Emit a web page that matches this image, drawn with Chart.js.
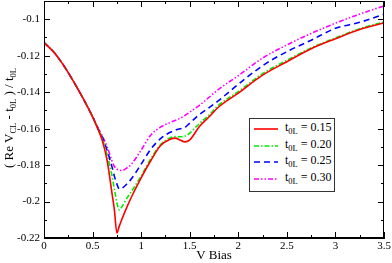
<!DOCTYPE html>
<html>
<head>
<meta charset="utf-8">
<script src="https://cdn.jsdelivr.net/npm/chart.js@4.4.1/dist/chart.umd.min.js"></script>
<style>
    html, body { margin: 0; padding: 0; background: #fff; }
    #wrap { position: relative; width: 392px; height: 263px; font-family: "Liberation Serif", "Times New Roman", Times, "DejaVu Serif", serif; color: #000; }
    #yTitle { position: absolute; left: 9px; top: 118px; transform: translate(-50%, -50%) rotate(-90deg); white-space: nowrap; font-size: 13px; }
    .sub { font-size: 8.5px; position: relative; top: 3px; }
    #legend { position: absolute; left: 249px; top: 118px; width: 86px; height: 74px; box-sizing: border-box; border: 1px solid #333; background: #fff; padding-top: 2px; }
    .row { position: relative; height: 16.7px; font-size: 12px; line-height: 16.7px; }
    .row svg { position: absolute; left: 3px; top: 5px; }
    .row span.txt { position: absolute; left: 35px; top: -2px; white-space: nowrap; }
</style>
</head>
<body>
<div id="wrap">
    <canvas id="chart"></canvas>
    <div id="yTitle">( Re V<span class="sub">CL</span> - t<span class="sub">0L</span> ) / t<span class="sub">0L</span></div>
    <div id="legend"></div>
</div>
<script>
const vBias = [0, 0.1, 0.2, 0.3, 0.4, 0.5, 0.55, 0.6, 0.65, 0.7, 0.725, 0.75, 0.775, 0.8, 0.85, 0.9,
    1.0, 1.1, 1.2, 1.3, 1.35, 1.4, 1.45, 1.5, 1.6, 1.7, 1.8, 2.0, 2.25, 2.5, 2.75, 3.0, 3.25, 3.5];

const t015 = [-0.1128, -0.1180, -0.1252, -0.1338, -0.1432, -0.1536, -0.1596, -0.1665, -0.1775, -0.1955, -0.2048, -0.2172, -0.2135, -0.2100, -0.2035, -0.1975,
    -0.1870, -0.1775, -0.1693, -0.1658, -0.1652, -0.1662, -0.1673, -0.1662, -0.1588, -0.1535, -0.1480, -0.1405, -0.1307, -0.1233, -0.1162, -0.1107, -0.1056, -0.1020];
const t020 = [-0.1128, -0.1180, -0.1252, -0.1338, -0.1432, -0.1535, -0.1594, -0.1656, -0.1745, -0.1858, -0.1935, -0.2005, -0.2046, -0.2030, -0.1985, -0.1945,
    -0.1860, -0.1765, -0.1688, -0.1650, -0.1643, -0.1645, -0.1642, -0.1625, -0.1572, -0.1525, -0.1470, -0.1397, -0.1298, -0.1225, -0.1157, -0.1103, -0.1052, -0.1015];
const t025 = [-0.1128, -0.1180, -0.1252, -0.1338, -0.1432, -0.1535, -0.1592, -0.1648, -0.1720, -0.1810, -0.1862, -0.1903, -0.1931, -0.1928, -0.1905, -0.1875,
    -0.1795, -0.1712, -0.1655, -0.1620, -0.1609, -0.1601, -0.1594, -0.1570, -0.1523, -0.1485, -0.1445, -0.1357, -0.1255, -0.1178, -0.1115, -0.1050, -0.1017, -0.0973];
const t030 = [-0.1128, -0.1180, -0.1252, -0.1338, -0.1432, -0.1534, -0.1590, -0.1640, -0.1700, -0.1778, -0.1808, -0.1822, -0.1828, -0.1830, -0.1817, -0.1795,
    -0.1718, -0.1635, -0.1592, -0.1566, -0.1555, -0.1544, -0.1528, -0.1510, -0.1472, -0.1428, -0.1383, -0.1310, -0.1213, -0.1141, -0.1078, -0.1022, -0.0972, -0.0927];

const seriesLabels = ["0.15", "0.20", "0.25", "0.30"];
const seriesValues = [t015, t020, t025, t030];

const xTickValues = [0, 0.5, 1, 1.5, 2, 2.5, 3, 3.5];
const yTickValues = [-0.22, -0.2, -0.18, -0.16, -0.14, -0.12, -0.1];

const lineStyles = [
    { color: "#ff0000", dash: [] },
    { color: "#00ee00", dash: [5, 2, 1.5, 2] },
    { color: "#0000ff", dash: [6, 4] },
    { color: "#ff00ff", dash: [5, 2, 1.5, 2, 1.5, 2] }
];

const serif = "'Liberation Serif', 'Times New Roman', Times, 'DejaVu Serif', serif";

function midpoints(values) {
    const out = [];
    for (let i = 0; i < values.length - 1; i++) out.push((values[i] + values[i + 1]) / 2);
    return out;
}

// inward ticks on all four sides plus the top/right frame
const frameTicks = {
    id: "frameTicks",
    afterDraw(chart) {
        const { ctx, chartArea: a, scales } = chart;
        ctx.save();
        ctx.strokeStyle = "#000";
        ctx.lineWidth = 1;
        ctx.strokeRect(a.left + 0.5, a.top + 0.5, a.right - a.left - 1, a.bottom - a.top - 1);

        const tick = (x1, y1, x2, y2) => {
            ctx.beginPath();
            ctx.moveTo(x1, y1);
            ctx.lineTo(x2, y2);
            ctx.stroke();
        };
        const drawX = (vals, len) => vals.forEach((v) => {
            const x = Math.round(scales.x.getPixelForValue(v)) + 0.5;
            tick(x, a.bottom, x, a.bottom - len);
            tick(x, a.top, x, a.top + len);
        });
        const drawY = (vals, len) => vals.forEach((v) => {
            const y = Math.round(scales.y.getPixelForValue(v)) + 0.5;
            tick(a.left, y, a.left + len, y);
            tick(a.right, y, a.right - len, y);
        });
        drawX(xTickValues, 6);
        drawX(midpoints(xTickValues), 3);
        drawY(yTickValues, 6);
        drawY(midpoints(yTickValues), 3);
        ctx.restore();
    }
};

const canvas = document.getElementById("chart");

new Chart(canvas, {
    type: "line",
    data: {
        datasets: seriesValues.map((values, index) => ({
            label: `t0L = ${seriesLabels[index]}`,
            data: vBias.map((v, i) => ({ x: v, y: values[i] })),
            borderColor: lineStyles[index].color,
            backgroundColor: lineStyles[index].color,
            borderDash: lineStyles[index].dash,
            borderWidth: 1.6,
            pointRadius: 0,
            cubicInterpolationMode: "monotone",
            fill: false
        }))
    },
    options: {
        responsive: true,
        maintainAspectRatio: false,
        animation: false,
        layout: {
            padding: { top: 1, right: 8, left: 0, bottom: 0 }
        },
        plugins: {
            legend: { display: false },
            tooltip: { enabled: false }
        },
        scales: {
            x: {
                type: "linear",
                min: 0,
                max: 3.5,
                afterBuildTicks: (scale) => {
                    scale.ticks = xTickValues.map((v) => ({ value: v }));
                },
                afterFit: (scale) => {
                    scale.height = 25;
                    scale.paddingLeft = 0;
                    scale.paddingRight = 0;
                },
                ticks: {
                    padding: 2,
                    color: "#000",
                    maxRotation: 0,
                    font: { family: serif, size: 11 },
                    callback: (value) => String(Number(value.toFixed(2)))
                },
                grid: { drawOnChartArea: false, drawTicks: false },
                border: { display: true, color: "#000", width: 1 },
                title: {
                    display: true,
                    text: "V Bias",
                    color: "#000",
                    padding: { top: 0, bottom: 0 },
                    font: { family: serif, size: 13 }
                }
            },
            y: {
                min: -0.22,
                max: -0.09,
                afterBuildTicks: (scale) => {
                    scale.ticks = yTickValues.map((v) => ({ value: v }));
                },
                afterFit: (scale) => {
                    scale.width = 44;
                    scale.paddingTop = 0;
                    scale.paddingBottom = 0;
                },
                ticks: {
                    padding: 4,
                    color: "#000",
                    font: { family: serif, size: 11 },
                    callback: (value) => String(Number(value.toFixed(2)))
                },
                grid: { drawOnChartArea: false, drawTicks: false },
                border: { display: true, color: "#000", width: 1 }
            }
        }
    },
    plugins: [frameTicks]
});

// legend box, drawn from the same labels and styles
const legend = document.getElementById("legend");
seriesLabels.forEach((label, index) => {
    const style = lineStyles[index];
    const row = document.createElement("div");
    row.className = "row";
    const dash = style.dash.length ? style.dash.join(" ") : "none";
    row.innerHTML =
        `<svg width="26" height="6"><line x1="1" y1="3" x2="25" y2="3" stroke="${style.color}" stroke-width="1.6" stroke-dasharray="${dash}"/></svg>` +
        `<span class="txt">t<span class="sub">0L</span> = ${label}</span>`;
    legend.appendChild(row);
});
</script>
</body>
</html>
